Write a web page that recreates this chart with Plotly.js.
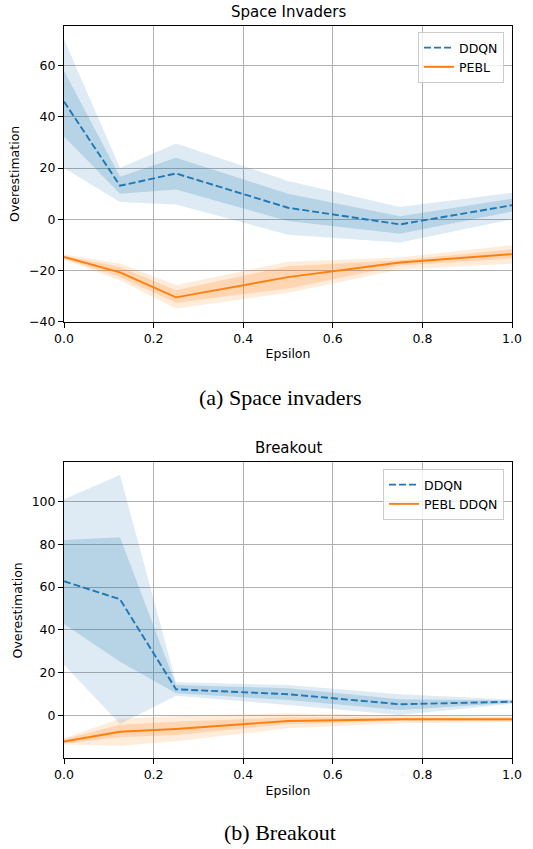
<!DOCTYPE html>
<html>
<head>
<meta charset="utf-8">
<script src="https://cdn.plot.ly/plotly-3.0.1.min.js"></script>
<style>html,body{margin:0;padding:0;background:#fff;}#chart{width:533px;height:849px;}</style>
</head>
<body>
<div id="chart"></div>
<script>
// Epsilon values (x)
const epsilon = [0, 0.125, 0.25, 0.5, 0.75, 1.0];

// Space Invaders - DDQN
const siDdqnMean    = [46, 13.1, 17.9, 4.5, -2, 5.5];
const siDdqnInnerHi = [58, 16.6, 24, 10, 1.2, 8];
const siDdqnInnerLo = [32.3, 10, 11.6, -0.7, -5.6, 3];
const siDdqnOuterHi = [70.3, 20, 29.6, 15, 4.8, 10.4];
const siDdqnOuterLo = [20, 6.8, 5.8, -6, -9.1, 0];

// Space Invaders - PEBL
const siPeblMean    = [-14.7, -20.7, -30.5, -22.6, -16.9, -13.6];
const siPeblInnerHi = [-14.2, -18.6, -27.7, -18.3, -16, -11.7];
const siPeblInnerLo = [-15.3, -22.5, -32.6, -27, -18, -15.3];
const siPeblOuterHi = [-13.8, -17.3, -25.7, -16.6, -14.9, -10.1];
const siPeblOuterLo = [-15.8, -23.8, -34.8, -28.7, -19.6, -17.3];

// Breakout - DDQN
const boDdqnMean    = [62.7, 54.3, 12.3, 10, 5.3, 6.5];
const boDdqnInnerHi = [81.9, 83.2, 14.3, 12.8, 7.6, 7];
const boDdqnInnerLo = [42.8, 25.2, 10.4, 7.3, 2.6, 6];
const boDdqnOuterHi = [101, 112.3, 15.6, 14.3, 10, 7.5];
const boDdqnOuterLo = [23.7, -3.9, 9.3, 5, 0.3, 5.5];

// Breakout - PEBL DDQN
const boPeblMean    = [-12.1, -7.5, -6.2, -2.5, -1.7, -1.7];
const boPeblInnerHi = [-11, -4.3, -2.8, -0.8, -1, -1];
const boPeblInnerLo = [-13, -10.1, -9, -3.9, -2.5, -2.5];
const boPeblOuterHi = [-10.5, -1.5, -0.2, 1.1, 0, -0.5];
const boPeblOuterLo = [-13.5, -14, -12, -5.9, -3.5, -3];

const titles = ['Space Invaders', 'Breakout'];
const captions = ['(a) Space invaders', '(b) Breakout'];
const seriesNames = [['DDQN', 'PEBL'], ['DDQN', 'PEBL DDQN']];

const BLUE = '#1f77b4', ORANGE = '#ff7f0e';
const FONT = 'DejaVu Sans, Verdana, sans-serif';

function band(lo, hi, rgb, alpha, xa, ya) {
  return [
    {x: epsilon, y: lo, xaxis: xa, yaxis: ya, mode: 'lines', line: {width: 0, color: 'rgba(0,0,0,0)'},
     showlegend: false, hoverinfo: 'skip'},
    {x: epsilon, y: hi, xaxis: xa, yaxis: ya, mode: 'lines', line: {width: 0, color: 'rgba(0,0,0,0)'},
     fill: 'tonexty', fillcolor: 'rgba(' + rgb + ',' + alpha + ')', showlegend: false, hoverinfo: 'skip'}
  ];
}

function series(mean, iLo, iHi, oLo, oHi, color, rgb, name, dash, xa, ya, legend) {
  return [
    ...band(oLo, oHi, rgb, 0.15, xa, ya),
    ...band(iLo, iHi, rgb, 0.2, xa, ya),
    {x: epsilon, y: mean, xaxis: xa, yaxis: ya, mode: 'lines', name: name, legend: legend,
     line: {color: color, width: 1.9, dash: dash}}
  ];
}

const data = [
  ...series(siDdqnMean, siDdqnInnerLo, siDdqnInnerHi, siDdqnOuterLo, siDdqnOuterHi, BLUE, '31,119,180', seriesNames[0][0], '7px,3px', 'x', 'y', 'legend'),
  ...series(siPeblMean, siPeblInnerLo, siPeblInnerHi, siPeblOuterLo, siPeblOuterHi, ORANGE, '255,127,14', seriesNames[0][1], 'solid', 'x', 'y', 'legend'),
  ...series(boDdqnMean, boDdqnInnerLo, boDdqnInnerHi, boDdqnOuterLo, boDdqnOuterHi, BLUE, '31,119,180', seriesNames[1][0], '7px,3px', 'x2', 'y2', 'legend2'),
  ...series(boPeblMean, boPeblInnerLo, boPeblInnerHi, boPeblOuterLo, boPeblOuterHi, ORANGE, '255,127,14', seriesNames[1][1], 'solid', 'x2', 'y2', 'legend2')
];

const W = 533, H = 849;
const xDom = [64 / W, 512 / W];
const yDomTop = [1 - 321.7 / H, 1 - 26 / H];
const yDomBot = [1 - 758.3 / H, 1 - 462.3 / H];

const tickFont = {family: FONT, size: 12.5, color: '#000'};
function xAxis(anchor) {
  return {domain: xDom, anchor: anchor, range: [0, 1], dtick: 0.2, tick0: 0, tickformat: '.1f',
    showgrid: true, gridcolor: '#b0b0b0', gridwidth: 1, zeroline: false,
    showline: true, mirror: true, linecolor: '#000', linewidth: 1,
    ticks: 'outside', ticklen: 5, tickcolor: '#000', tickwidth: 1, tickfont: tickFont,
    title: {text: 'Epsilon', font: {family: FONT, size: 12.5, color: '#000'}, standoff: 4}};
}
function yAxis(anchor, dom, range) {
  return {domain: dom, anchor: anchor, range: range, dtick: 20, tick0: 0,
    showgrid: true, gridcolor: '#b0b0b0', gridwidth: 1, zeroline: false,
    showline: true, mirror: true, linecolor: '#000', linewidth: 1,
    ticks: 'outside', ticklen: 5, tickcolor: '#000', tickwidth: 1, tickfont: tickFont,
    title: {text: 'Overestimation', font: {family: FONT, size: 12.5, color: '#000'}, standoff: 6}};
}

const legendBase = {bgcolor: 'rgba(255,255,255,0.8)', bordercolor: '#cccccc', borderwidth: 1,
  traceorder: 'normal',
  font: {family: FONT, size: 12.5, color: '#000'}, xanchor: 'right', yanchor: 'top'};

const layout = {
  width: W, height: H,
  margin: {l: 0, r: 0, t: 0, b: 0},
  paper_bgcolor: '#fff', plot_bgcolor: '#fff',
  font: {family: FONT, color: '#000'},
  xaxis: xAxis('y'),
  yaxis: yAxis('x', yDomTop, [-40, 75.5]),
  xaxis2: xAxis('y2'),
  yaxis2: yAxis('x2', yDomBot, [-19.9, 118.2]),
  legend: Object.assign({x: 504 / W, y: 1 - 32 / H}, legendBase),
  legend2: Object.assign({x: 504 / W, y: 1 - 469 / H}, legendBase),
  annotations: [
    {text: titles[0], xref: 'paper', yref: 'paper', x: 288 / W, y: 1 - 12.3 / H, showarrow: false,
     xanchor: 'center', yanchor: 'middle', font: {family: FONT, size: 15, color: '#000'}},
    {text: titles[1], xref: 'paper', yref: 'paper', x: 288 / W, y: 1 - 448.3 / H, showarrow: false,
     xanchor: 'center', yanchor: 'middle', font: {family: FONT, size: 15, color: '#000'}},
    {text: captions[0], xref: 'paper', yref: 'paper', x: 280 / W, y: 1 - 397 / H, showarrow: false,
     xanchor: 'center', yanchor: 'middle', font: {family: 'Liberation Serif, Times New Roman, serif', size: 22, color: '#000'}},
    {text: captions[1], xref: 'paper', yref: 'paper', x: 280 / W, y: 1 - 832 / H, showarrow: false,
     xanchor: 'center', yanchor: 'middle', font: {family: 'Liberation Serif, Times New Roman, serif', size: 22, color: '#000'}}
  ]
};

Plotly.newPlot('chart', data, layout, {staticPlot: true, displayModeBar: false});
</script>
</body>
</html>
